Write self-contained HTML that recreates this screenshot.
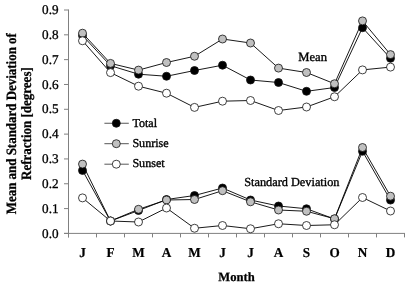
<!DOCTYPE html>
<html lang="en"><head><meta charset="utf-8"><title>Mean and Standard Deviation of Refraction</title>
<style>html,body{margin:0;padding:0;background:#fff;overflow:hidden}body{width:409px;height:286px;position:relative}</style></head>
<body>
<svg width="409" height="286" viewBox="0 0 409 286" text-rendering="geometricPrecision" style="display:block;position:absolute;left:0;top:0;filter:blur(0.35px)">
<rect width="409" height="286" fill="#fff"/>
<g stroke="#808080" stroke-width="1" fill="none">
<line x1="68.5" y1="9.5" x2="68.5" y2="237.4"/>
<line x1="64.0" y1="233.4" x2="405.0" y2="233.4"/>
<line x1="64.0" y1="233.40" x2="68.5" y2="233.40"/>
<line x1="64.0" y1="208.58" x2="68.5" y2="208.58"/>
<line x1="64.0" y1="183.76" x2="68.5" y2="183.76"/>
<line x1="64.0" y1="158.93" x2="68.5" y2="158.93"/>
<line x1="64.0" y1="134.11" x2="68.5" y2="134.11"/>
<line x1="64.0" y1="109.29" x2="68.5" y2="109.29"/>
<line x1="64.0" y1="84.47" x2="68.5" y2="84.47"/>
<line x1="64.0" y1="59.64" x2="68.5" y2="59.64"/>
<line x1="64.0" y1="34.82" x2="68.5" y2="34.82"/>
<line x1="64.0" y1="10.00" x2="68.5" y2="10.00"/>
<line x1="68.5" y1="233.4" x2="68.5" y2="237.4"/>
<line x1="96.5" y1="233.4" x2="96.5" y2="237.4"/>
<line x1="124.5" y1="233.4" x2="124.5" y2="237.4"/>
<line x1="152.5" y1="233.4" x2="152.5" y2="237.4"/>
<line x1="180.5" y1="233.4" x2="180.5" y2="237.4"/>
<line x1="208.5" y1="233.4" x2="208.5" y2="237.4"/>
<line x1="236.5" y1="233.4" x2="236.5" y2="237.4"/>
<line x1="264.5" y1="233.4" x2="264.5" y2="237.4"/>
<line x1="292.5" y1="233.4" x2="292.5" y2="237.4"/>
<line x1="320.5" y1="233.4" x2="320.5" y2="237.4"/>
<line x1="348.5" y1="233.4" x2="348.5" y2="237.4"/>
<line x1="376.5" y1="233.4" x2="376.5" y2="237.4"/>
<line x1="404.5" y1="233.4" x2="404.5" y2="237.4"/>
</g>
<g font-family="'Liberation Serif', serif" font-size="13.2" fill="#000" stroke="#000" stroke-width="0.3" text-anchor="end">
<text transform="translate(58.6,237.50) scale(1,1.01)">0.0</text>
<text transform="translate(58.6,212.68) scale(1,1.01)">0.1</text>
<text transform="translate(58.6,187.86) scale(1,1.01)">0.2</text>
<text transform="translate(58.6,163.03) scale(1,1.01)">0.3</text>
<text transform="translate(58.6,138.21) scale(1,1.01)">0.4</text>
<text transform="translate(58.6,113.39) scale(1,1.01)">0.5</text>
<text transform="translate(58.6,88.57) scale(1,1.01)">0.6</text>
<text transform="translate(58.6,63.74) scale(1,1.01)">0.7</text>
<text transform="translate(58.6,38.92) scale(1,1.01)">0.8</text>
<text transform="translate(58.6,14.10) scale(1,1.01)">0.9</text>
</g>
<g font-family="'Liberation Serif', serif" font-size="12.5" font-weight="bold" fill="#000" stroke="#000" stroke-width="0.25" text-anchor="middle">
<text font-size="13.2" stroke-width="0.2" transform="translate(82.5,256.9) scale(1,1.03)">J</text>
<text font-size="13.2" stroke-width="0.2" transform="translate(110.5,256.9) scale(1,1.03)">F</text>
<text font-size="13.2" stroke-width="0.2" transform="translate(138.5,256.9) scale(1,1.03)">M</text>
<text font-size="13.2" stroke-width="0.2" transform="translate(166.5,256.9) scale(1,1.03)">A</text>
<text font-size="13.2" stroke-width="0.2" transform="translate(194.5,256.9) scale(1,1.03)">M</text>
<text font-size="13.2" stroke-width="0.2" transform="translate(222.5,256.9) scale(1,1.03)">J</text>
<text font-size="13.2" stroke-width="0.2" transform="translate(250.5,256.9) scale(1,1.03)">J</text>
<text font-size="13.2" stroke-width="0.2" transform="translate(278.5,256.9) scale(1,1.03)">A</text>
<text font-size="13.2" stroke-width="0.2" transform="translate(306.5,256.9) scale(1,1.03)">S</text>
<text font-size="13.2" stroke-width="0.2" transform="translate(334.5,256.9) scale(1,1.03)">O</text>
<text font-size="13.2" stroke-width="0.2" transform="translate(362.5,256.9) scale(1,1.03)">N</text>
<text font-size="13.2" stroke-width="0.2" transform="translate(390.5,256.9) scale(1,1.03)">D</text>
<text font-size="12.6" x="236.5" y="280.8">Month</text>
<text font-size="12.95" transform="translate(15.7,123.7) rotate(-90) scale(1,1.1)">Mean and Standard Deviation of</text>
<text font-size="13.0" transform="translate(31.1,123.6) rotate(-90) scale(1,1.1)">Refraction [degrees]</text>
</g>
<polyline points="82.50,35.50 110.50,65.70 138.50,74.20 166.50,76.25 194.50,70.50 222.50,65.20 250.50,80.00 278.50,82.50 306.50,91.30 334.50,87.50 362.50,27.70 390.50,58.30" fill="none" stroke="#000" stroke-width="0.9"/>
<circle cx="82.50" cy="35.50" r="4.0" fill="#000" stroke="#111" stroke-width="0.8"/>
<circle cx="110.50" cy="65.70" r="4.0" fill="#000" stroke="#111" stroke-width="0.8"/>
<circle cx="138.50" cy="74.20" r="4.0" fill="#000" stroke="#111" stroke-width="0.8"/>
<circle cx="166.50" cy="76.25" r="4.0" fill="#000" stroke="#111" stroke-width="0.8"/>
<circle cx="194.50" cy="70.50" r="4.0" fill="#000" stroke="#111" stroke-width="0.8"/>
<circle cx="222.50" cy="65.20" r="4.0" fill="#000" stroke="#111" stroke-width="0.8"/>
<circle cx="250.50" cy="80.00" r="4.0" fill="#000" stroke="#111" stroke-width="0.8"/>
<circle cx="278.50" cy="82.50" r="4.0" fill="#000" stroke="#111" stroke-width="0.8"/>
<circle cx="306.50" cy="91.30" r="4.0" fill="#000" stroke="#111" stroke-width="0.8"/>
<circle cx="334.50" cy="87.50" r="4.0" fill="#000" stroke="#111" stroke-width="0.8"/>
<circle cx="362.50" cy="27.70" r="4.0" fill="#000" stroke="#111" stroke-width="0.8"/>
<circle cx="390.50" cy="58.30" r="4.0" fill="#000" stroke="#111" stroke-width="0.8"/>

<polyline points="82.50,170.40 110.50,221.00 138.50,210.50 166.50,199.50 194.50,195.50 222.50,188.00 250.50,200.00 278.50,206.00 306.50,208.75 334.50,219.00 362.50,151.25 390.50,200.10" fill="none" stroke="#000" stroke-width="0.9"/>
<circle cx="82.50" cy="170.40" r="4.0" fill="#000" stroke="#111" stroke-width="0.8"/>
<circle cx="110.50" cy="221.00" r="4.0" fill="#000" stroke="#111" stroke-width="0.8"/>
<circle cx="138.50" cy="210.50" r="4.0" fill="#000" stroke="#111" stroke-width="0.8"/>
<circle cx="166.50" cy="199.50" r="4.0" fill="#000" stroke="#111" stroke-width="0.8"/>
<circle cx="194.50" cy="195.50" r="4.0" fill="#000" stroke="#111" stroke-width="0.8"/>
<circle cx="222.50" cy="188.00" r="4.0" fill="#000" stroke="#111" stroke-width="0.8"/>
<circle cx="250.50" cy="200.00" r="4.0" fill="#000" stroke="#111" stroke-width="0.8"/>
<circle cx="278.50" cy="206.00" r="4.0" fill="#000" stroke="#111" stroke-width="0.8"/>
<circle cx="306.50" cy="208.75" r="4.0" fill="#000" stroke="#111" stroke-width="0.8"/>
<circle cx="334.50" cy="219.00" r="4.0" fill="#000" stroke="#111" stroke-width="0.8"/>
<circle cx="362.50" cy="151.25" r="4.0" fill="#000" stroke="#111" stroke-width="0.8"/>
<circle cx="390.50" cy="200.10" r="4.0" fill="#000" stroke="#111" stroke-width="0.8"/>

<polyline points="82.50,33.20 110.50,63.40 138.50,70.10 166.50,62.50 194.50,56.25 222.50,39.00 250.50,43.00 278.50,68.10 306.50,72.50 334.50,83.75 362.50,20.90 390.50,54.60" fill="none" stroke="#000" stroke-width="0.9"/>
<circle cx="82.50" cy="33.20" r="4.0" fill="#c0c0c0" stroke="#111" stroke-width="0.8"/>
<circle cx="110.50" cy="63.40" r="4.0" fill="#c0c0c0" stroke="#111" stroke-width="0.8"/>
<circle cx="138.50" cy="70.10" r="4.0" fill="#c0c0c0" stroke="#111" stroke-width="0.8"/>
<circle cx="166.50" cy="62.50" r="4.0" fill="#c0c0c0" stroke="#111" stroke-width="0.8"/>
<circle cx="194.50" cy="56.25" r="4.0" fill="#c0c0c0" stroke="#111" stroke-width="0.8"/>
<circle cx="222.50" cy="39.00" r="4.0" fill="#c0c0c0" stroke="#111" stroke-width="0.8"/>
<circle cx="250.50" cy="43.00" r="4.0" fill="#c0c0c0" stroke="#111" stroke-width="0.8"/>
<circle cx="278.50" cy="68.10" r="4.0" fill="#c0c0c0" stroke="#111" stroke-width="0.8"/>
<circle cx="306.50" cy="72.50" r="4.0" fill="#c0c0c0" stroke="#111" stroke-width="0.8"/>
<circle cx="334.50" cy="83.75" r="4.0" fill="#c0c0c0" stroke="#111" stroke-width="0.8"/>
<circle cx="362.50" cy="20.90" r="4.0" fill="#c0c0c0" stroke="#111" stroke-width="0.8"/>
<circle cx="390.50" cy="54.60" r="4.0" fill="#c0c0c0" stroke="#111" stroke-width="0.8"/>

<polyline points="82.50,164.10 110.50,221.00 138.50,209.30 166.50,200.00 194.50,199.50 222.50,190.70 250.50,201.80 278.50,210.00 306.50,211.25 334.50,218.75 362.50,147.50 390.50,196.20" fill="none" stroke="#000" stroke-width="0.9"/>
<circle cx="82.50" cy="164.10" r="4.0" fill="#c0c0c0" stroke="#111" stroke-width="0.8"/>
<circle cx="110.50" cy="221.00" r="4.0" fill="#c0c0c0" stroke="#111" stroke-width="0.8"/>
<circle cx="138.50" cy="209.30" r="4.0" fill="#c0c0c0" stroke="#111" stroke-width="0.8"/>
<circle cx="166.50" cy="200.00" r="4.0" fill="#c0c0c0" stroke="#111" stroke-width="0.8"/>
<circle cx="194.50" cy="199.50" r="4.0" fill="#c0c0c0" stroke="#111" stroke-width="0.8"/>
<circle cx="222.50" cy="190.70" r="4.0" fill="#c0c0c0" stroke="#111" stroke-width="0.8"/>
<circle cx="250.50" cy="201.80" r="4.0" fill="#c0c0c0" stroke="#111" stroke-width="0.8"/>
<circle cx="278.50" cy="210.00" r="4.0" fill="#c0c0c0" stroke="#111" stroke-width="0.8"/>
<circle cx="306.50" cy="211.25" r="4.0" fill="#c0c0c0" stroke="#111" stroke-width="0.8"/>
<circle cx="334.50" cy="218.75" r="4.0" fill="#c0c0c0" stroke="#111" stroke-width="0.8"/>
<circle cx="362.50" cy="147.50" r="4.0" fill="#c0c0c0" stroke="#111" stroke-width="0.8"/>
<circle cx="390.50" cy="196.20" r="4.0" fill="#c0c0c0" stroke="#111" stroke-width="0.8"/>

<polyline points="82.50,40.75 110.50,72.60 138.50,86.20 166.50,93.20 194.50,107.40 222.50,101.20 250.50,100.50 278.50,110.50 306.50,107.00 334.50,96.75 362.50,69.90 390.50,67.10" fill="none" stroke="#000" stroke-width="0.9"/>
<circle cx="82.50" cy="40.75" r="4.0" fill="#fff" stroke="#111" stroke-width="0.8"/>
<circle cx="110.50" cy="72.60" r="4.0" fill="#fff" stroke="#111" stroke-width="0.8"/>
<circle cx="138.50" cy="86.20" r="4.0" fill="#fff" stroke="#111" stroke-width="0.8"/>
<circle cx="166.50" cy="93.20" r="4.0" fill="#fff" stroke="#111" stroke-width="0.8"/>
<circle cx="194.50" cy="107.40" r="4.0" fill="#fff" stroke="#111" stroke-width="0.8"/>
<circle cx="222.50" cy="101.20" r="4.0" fill="#fff" stroke="#111" stroke-width="0.8"/>
<circle cx="250.50" cy="100.50" r="4.0" fill="#fff" stroke="#111" stroke-width="0.8"/>
<circle cx="278.50" cy="110.50" r="4.0" fill="#fff" stroke="#111" stroke-width="0.8"/>
<circle cx="306.50" cy="107.00" r="4.0" fill="#fff" stroke="#111" stroke-width="0.8"/>
<circle cx="334.50" cy="96.75" r="4.0" fill="#fff" stroke="#111" stroke-width="0.8"/>
<circle cx="362.50" cy="69.90" r="4.0" fill="#fff" stroke="#111" stroke-width="0.8"/>
<circle cx="390.50" cy="67.10" r="4.0" fill="#fff" stroke="#111" stroke-width="0.8"/>

<polyline points="82.50,197.90 110.50,221.00 138.50,222.00 166.50,208.00 194.50,228.25 222.50,225.50 250.50,228.75 278.50,223.75 306.50,225.50 334.50,224.75 362.50,197.50 390.50,211.00" fill="none" stroke="#000" stroke-width="0.9"/>
<circle cx="82.50" cy="197.90" r="4.0" fill="#fff" stroke="#111" stroke-width="0.8"/>
<circle cx="110.50" cy="221.00" r="4.0" fill="#fff" stroke="#111" stroke-width="0.8"/>
<circle cx="138.50" cy="222.00" r="4.0" fill="#fff" stroke="#111" stroke-width="0.8"/>
<circle cx="166.50" cy="208.00" r="4.0" fill="#fff" stroke="#111" stroke-width="0.8"/>
<circle cx="194.50" cy="228.25" r="4.0" fill="#fff" stroke="#111" stroke-width="0.8"/>
<circle cx="222.50" cy="225.50" r="4.0" fill="#fff" stroke="#111" stroke-width="0.8"/>
<circle cx="250.50" cy="228.75" r="4.0" fill="#fff" stroke="#111" stroke-width="0.8"/>
<circle cx="278.50" cy="223.75" r="4.0" fill="#fff" stroke="#111" stroke-width="0.8"/>
<circle cx="306.50" cy="225.50" r="4.0" fill="#fff" stroke="#111" stroke-width="0.8"/>
<circle cx="334.50" cy="224.75" r="4.0" fill="#fff" stroke="#111" stroke-width="0.8"/>
<circle cx="362.50" cy="197.50" r="4.0" fill="#fff" stroke="#111" stroke-width="0.8"/>
<circle cx="390.50" cy="211.00" r="4.0" fill="#fff" stroke="#111" stroke-width="0.8"/>

<g font-family="'Liberation Serif', serif" font-size="12.5" fill="#000" stroke="#000" stroke-width="0.35">
<text font-size="12.6" x="298.3" y="61.2">Mean</text>
<text font-size="12.3" x="244.2" y="186.1">Standard Deviation</text>
<line x1="104.4" y1="123.25" x2="128.8" y2="123.25" stroke="#444" stroke-width="0.9"/>
<circle cx="116.3" cy="123.25" r="4.0" fill="#000" stroke="#111" stroke-width="0.8"/>
<text font-size="12.1" x="132.4" y="126.60">Total</text>
<line x1="104.4" y1="143.7" x2="128.8" y2="143.7" stroke="#444" stroke-width="0.9"/>
<circle cx="116.3" cy="143.7" r="4.0" fill="#c0c0c0" stroke="#111" stroke-width="0.8"/>
<text font-size="12.1" x="132.4" y="146.50">Sunrise</text>
<line x1="104.4" y1="164.2" x2="128.8" y2="164.2" stroke="#444" stroke-width="0.9"/>
<circle cx="116.3" cy="164.2" r="4.0" fill="#fff" stroke="#111" stroke-width="0.8"/>
<text font-size="12.1" x="132.4" y="166.60">Sunset</text>
</g>
</svg>
</body></html>
